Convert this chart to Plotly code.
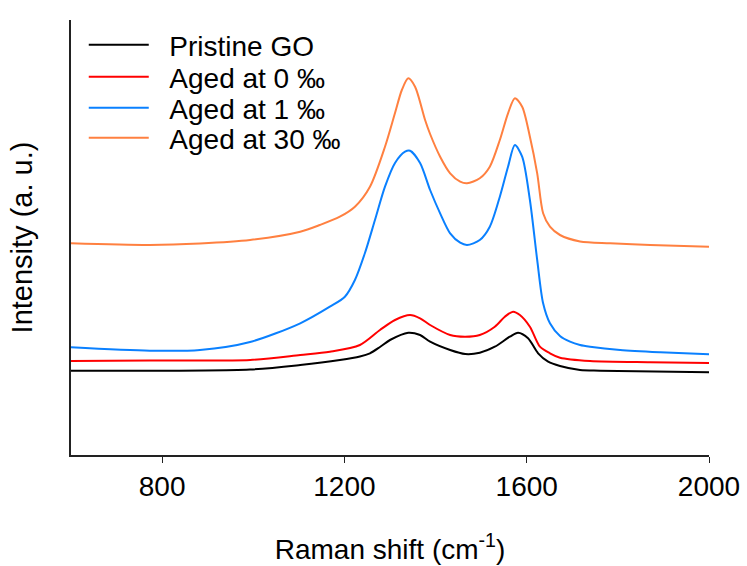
import plotly.graph_objects as go

# Raman shift (cm-1) and intensity (arbitrary units)
pristine_x = [600, 993, 1103, 1190, 1234, 1256, 1278, 1300, 1340, 1366, 1388, 1432, 1465, 1497, 1530, 1563, 1581, 1603, 1625, 1647, 1673, 1717, 1761, 2000]
pristine_y = [88.3, 89.5, 94, 99, 102.5, 105.7, 112, 119, 126.3, 124, 117.3, 109, 105, 106.3, 112.3, 122.3, 126.3, 120.7, 105.7, 97.3, 93, 89, 88.3, 86.7]

aged0_x = [600, 773, 993, 1103, 1168, 1234, 1278, 1311, 1344, 1366, 1388, 1432, 1465, 1497, 1530, 1552, 1570, 1585, 1607, 1629, 1651, 1673, 1739, 1871, 2000]
aged0_y = [98, 98.5, 99, 104, 107.3, 114, 129, 139, 144, 140.7, 134, 124, 122.3, 124, 132.3, 142.3, 147.3, 144, 132.3, 112.3, 105.7, 101.3, 98, 96.7, 96]

aged1_x = [600, 773, 883, 993, 1103, 1168, 1201, 1223, 1245, 1267, 1289, 1311, 1333, 1344, 1366, 1388, 1410, 1432, 1454, 1469, 1497, 1519, 1541, 1559, 1574, 1590, 1607, 1623, 1636, 1651, 1673, 1695, 1717, 1739, 1805, 1893, 2000]
aged1_y = [111.7, 108.3, 109, 117, 135.7, 152.3, 162.3, 179, 206, 239, 272.3, 296, 307.3, 308.3, 296, 269, 245.7, 225.7, 216.3, 214, 219, 232.3, 262.3, 292.3, 314, 302.3, 259, 199, 155.7, 135.7, 123, 117.3, 114, 112.3, 109, 106.7, 104.7]

aged30_x = [600, 773, 883, 993, 1103, 1146, 1190, 1223, 1256, 1289, 1311, 1326, 1340, 1355, 1377, 1388, 1410, 1432, 1454, 1469, 1497, 1519, 1541, 1559, 1574, 1590, 1607, 1623, 1636, 1651, 1673, 1717, 1783, 1871, 2000]
aged30_y = [215.7, 214, 215.5, 219, 227.3, 234, 242.3, 252.3, 272.3, 312.3, 346, 369, 380.7, 372.3, 339, 325, 302.3, 285.7, 277.3, 275.7, 280.7, 292.3, 319, 345.7, 360.7, 352.3, 322.3, 285.7, 245.7, 232.3, 224, 217.5, 215.7, 214, 212.3]

x_ticks = [800, 1200, 1600, 2000]

series_names = ["Pristine GO", "Aged at 0 \u2030", "Aged at 1 \u2030", "Aged at 30 \u2030"]
series_x = [pristine_x, aged0_x, aged1_x, aged30_x]
series_y = [pristine_y, aged0_y, aged1_y, aged30_y]
series_colors = ["#000000", "#FF0000", "#0A80FF", "#FF8040"]

FONT = "Liberation Sans, Arial, sans-serif"
legend_ids = ["legend", "legend2", "legend3", "legend4"]
legend_rows = [0.9425, 0.869, 0.7977, 0.7287]

fig = go.Figure()
for name, xs, ys, color, lid in zip(series_names, series_x, series_y, series_colors, legend_ids):
    fig.add_trace(go.Scatter(
        x=xs, y=ys, name="\u00a0\u00a0" + name, mode="lines", legend=lid,
        line=dict(color=color, width=2, shape="spline", smoothing=0.8),
    ))

layout_legends = {}
for lid, ypos in zip(legend_ids, legend_rows):
    layout_legends[lid] = dict(
        x=0.02, y=ypos, xanchor="left", yanchor="middle",
        font=dict(family=FONT, size=28, color="black"),
        bgcolor="rgba(0,0,0,0)", itemwidth=60,
    )

fig.update_layout(
    width=747, height=566,
    margin=dict(l=71, r=38, t=20, b=111, autoexpand=False),
    paper_bgcolor="white", plot_bgcolor="white",
    font=dict(family=FONT, color="black"),
    showlegend=True,
    **layout_legends,
)

fig.update_xaxes(
    range=[600, 2000], tickvals=x_ticks, ticktext=[str(t) for t in x_ticks],
    showgrid=False, zeroline=False, automargin=False,
    showline=True, linecolor="#222222", linewidth=1.5,
    ticks="outside", ticklen=6, tickwidth=1, tickcolor="#222222",
    tickfont=dict(family=FONT, size=28, color="black"),
    title=dict(text="Raman shift (cm<sup>-1</sup>)", font=dict(family=FONT, size=28, color="black"), standoff=38),
)
fig.update_yaxes(
    range=[4, 439],
    showgrid=False, zeroline=False, automargin=False,
    showline=True, linecolor="#222222", linewidth=1.5,
    ticks="", showticklabels=False,
    title=dict(text="Intensity (a. u.)", font=dict(family=FONT, size=29, color="black"), standoff=28),
)

fig.write_html("out.html")
